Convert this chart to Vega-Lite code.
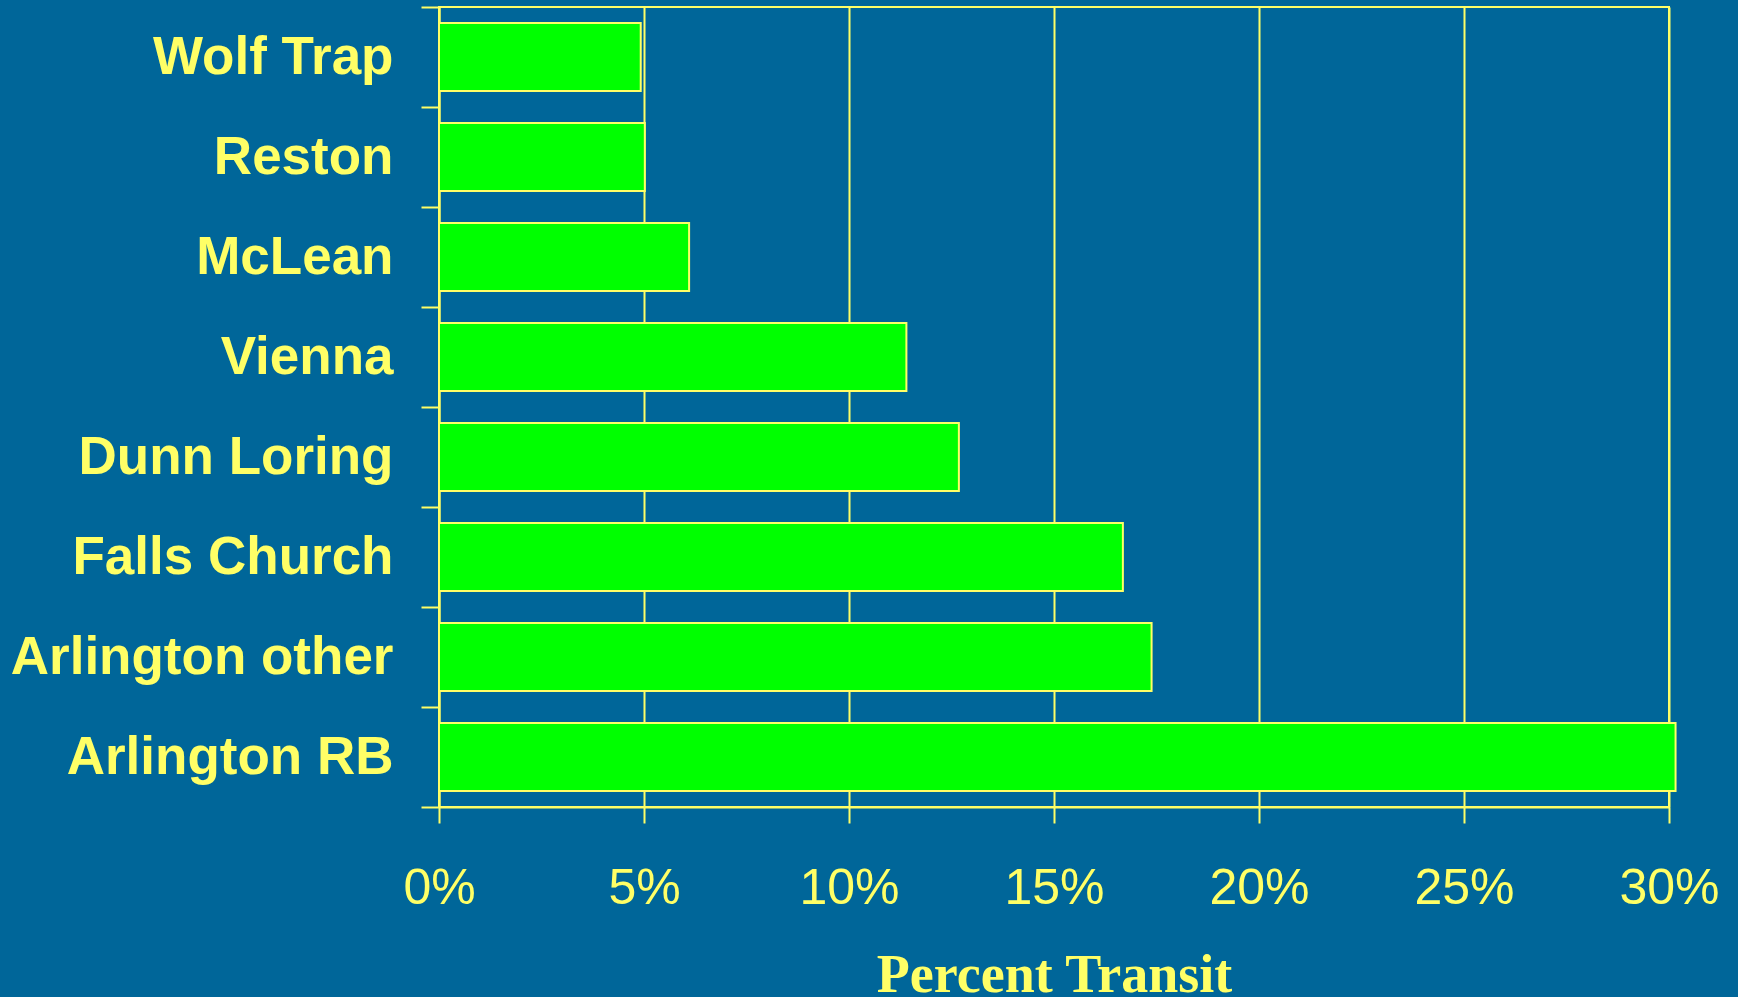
{
  "$schema": "https://vega.github.io/schema/vega-lite/v6.json",
  "width": 1230,
  "height": 800,
  "autosize": {"type": "none"},
  "padding": {"left": 439, "top": 7, "right": 69, "bottom": 190},
  "background": "#006699",
  "config": {
    "view": {"stroke": "#FFFF66", "strokeWidth": 2},
    "axis": {"domainColor": "#FFFF66", "tickColor": "#FFFF66", "gridColor": "#FFFF66", "domainWidth": 2, "tickWidth": 2, "gridWidth": 2, "gridOpacity": 1}
  },
  "data": {
    "values": [
      {"station": "Wolf Trap", "pct": 4.92},
      {"station": "Reston", "pct": 5.02},
      {"station": "McLean", "pct": 6.1},
      {"station": "Vienna", "pct": 11.4},
      {"station": "Dunn Loring", "pct": 12.68},
      {"station": "Falls Church", "pct": 16.68},
      {"station": "Arlington other", "pct": 17.38},
      {"station": "Arlington RB", "pct": 30.16}
    ]
  },
  "mark": {"type": "bar", "height": {"band": 0.68}, "fill": "#00FF00", "stroke": "#FFFF66", "strokeWidth": 2},
  "encoding": {
    "y": {
      "field": "station",
      "type": "nominal",
      "sort": null,
      "scale": {"paddingInner": 0, "paddingOuter": 0},
      "axis": {
        "title": null,
        "tickBand": "extent",
        "grid": false,
        "tickSize": 18,
        "labelPadding": 28,
        "labelFont": "Liberation Sans",
        "labelFontWeight": "bold",
        "labelFontSize": 53,
        "labelColor": "#FFFF66",
        "labelLimit": 500
      }
    },
    "x": {
      "field": "pct",
      "type": "quantitative",
      "scale": {"domain": [0, 30], "nice": false},
      "axis": {
        "values": [0, 5, 10, 15, 20, 25, 30],
        "labelExpr": "datum.value + '%'",
        "grid": true,
        "tickSize": 16,
        "labelPadding": 40,
        "labelFont": "Liberation Sans",
        "labelFontSize": 50,
        "labelColor": "#FFFF66",
        "labelFlush": false,
        "labelOverlap": false,
        "title": "Percent Transit",
        "titleFont": "Liberation Serif",
        "titleFontWeight": "bold",
        "titleFontSize": 54,
        "titleColor": "#FFFF66",
        "titleBaseline": "alphabetic",
        "titleY": 184
      }
    }
  }
}
